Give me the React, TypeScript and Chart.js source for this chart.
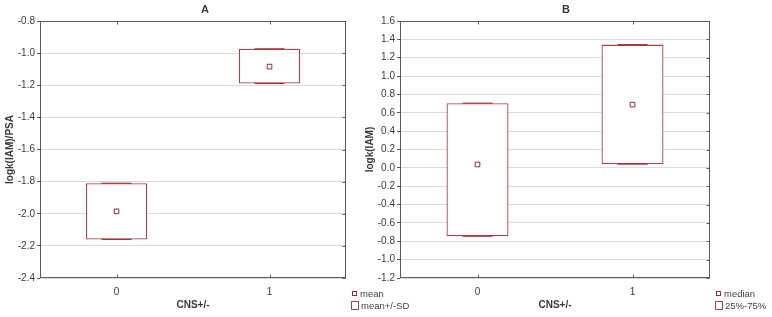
import React, { useEffect, useRef } from "react";
import { Chart, registerables } from "chart.js";

Chart.register(...registerables);

// ---- data ----
const categories = ["0", "1"];

// Panel A: mean and mean +/- SD of logk(IAM)/PSA
const meanA = [-1.985, -1.084];
const sdLowA = [-2.16, -1.189];
const sdHighA = [-1.81, -0.973];
const yTicksA = { min: -2.4, max: -0.8, step: 0.2 };

// Panel B: median and 25%-75% of logk(IAM)
const medianB = [0.037, 0.689];
const q1B = [-0.745, 0.04];
const q3B = [0.705, 1.343];
const yTicksB = { min: -1.2, max: 1.6, step: 0.2 };

const FONT = "'Liberation Sans', Arial, 'DejaVu Sans', sans-serif";
const BOX_COLOR = "#a8434a";
const CAP_COLOR = "#b02a34";
const MARK_COLOR = "#8e2f35";
const FRAME = "#5a5a5a";
const TEXT = "#3a3a3a";

type PanelCfg = {
  title: string;
  yTitle: string;
  xTitle: string;
  center: number[];
  low: number[];
  high: number[];
  yr: { min: number; max: number; step: number };
  legendPoint: string;
  legendBox: string;
  rightPad: number;
};

const framePlugin = {
  id: "frameAndLegend",
  afterDraw(chart: any, _args: any, opts: any) {
    const { ctx, chartArea } = chart;
    const l = Math.round(chartArea.left) + 0.5;
    const t = Math.round(chartArea.top) + 0.5;
    const r = Math.round(chartArea.right) - 0.5;
    const b = Math.round(chartArea.bottom) - 0.5;
    ctx.save();
    ctx.strokeStyle = FRAME;
    ctx.lineWidth = 1;
    ctx.strokeRect(l, t, r - l, b - t);
    // inner tick marks
    const ys = chart.scales.y;
    ctx.beginPath();
    ys.ticks.forEach((_: any, i: number) => {
      const py = Math.round(ys.getPixelForTick(i)) + 0.5;
      ctx.moveTo(r, py);
      ctx.lineTo(r - 3, py);
    });
    const xs = chart.scales.x;
    xs.ticks.forEach((_: any, i: number) => {
      const px = Math.round(xs.getPixelForTick(i)) + 0.5;
      ctx.moveTo(px, t);
      ctx.lineTo(px, t + 3);
      ctx.moveTo(px, b);
      ctx.lineTo(px, b - 3);
    });
    ctx.stroke();

    // panel title, centred on the canvas
    ctx.font = `bold 11px ${FONT}`;
    ctx.fillStyle = TEXT;
    ctx.textAlign = "center";
    ctx.textBaseline = "middle";
    ctx.fillText(opts.title, chart.width / 2, 10);

    // legend
    const x0 = chartArea.right;
    ctx.font = `9.5px ${FONT}`;
    ctx.textAlign = "left";
    ctx.fillStyle = "#fff";
    ctx.strokeStyle = MARK_COLOR;
    ctx.fillRect(Math.round(x0 + 6) + 0.5, 291.5, 4, 4);
    ctx.strokeRect(Math.round(x0 + 6) + 0.5, 291.5, 4, 4);
    ctx.fillStyle = "#444";
    ctx.fillText(opts.point, x0 + 14, 294);
    ctx.strokeStyle = BOX_COLOR;
    ctx.strokeRect(Math.round(x0 + 5) + 0.5, 301.5, 7, 8);
    ctx.fillText(opts.box, x0 + 15, 306);
    ctx.restore();
  },
};

function makeConfig(p: PanelCfg): any {
  return {
    type: "bar",
    data: {
      labels: categories,
      datasets: [
        {
          type: "line",
          label: p.legendPoint,
          data: p.center,
          showLine: false,
          pointStyle: "rect",
          pointRadius: 3.3,
          pointBackgroundColor: "#ffffff",
          pointBorderColor: MARK_COLOR,
          pointBorderWidth: 1,
          order: 0,
        },
        {
          type: "line",
          label: "cap-high",
          data: p.high,
          showLine: false,
          pointStyle: "line",
          pointRadius: 15,
          pointBorderColor: CAP_COLOR,
          pointBorderWidth: 1.1,
          order: 1,
        },
        {
          type: "line",
          label: "cap-low",
          data: p.low,
          showLine: false,
          pointStyle: "line",
          pointRadius: 15,
          pointBorderColor: CAP_COLOR,
          pointBorderWidth: 1.1,
          order: 1,
        },
        {
          type: "bar",
          label: p.legendBox,
          data: categories.map((_, i) => [p.low[i], p.high[i]]),
          backgroundColor: "#ffffff",
          borderColor: BOX_COLOR,
          borderWidth: 1.3,
          borderSkipped: false,
          barPercentage: 0.4,
          categoryPercentage: 1.0,
          order: 2,
        },
      ],
    },
    options: {
      responsive: false,
      animation: false,
      devicePixelRatio: 1,
      layout: { padding: { left: 0, right: p.rightPad, top: 21, bottom: 0 } },
      plugins: {
        legend: { display: false },
        tooltip: { enabled: false },
        title: { display: false },
        frameAndLegend: { point: p.legendPoint, box: p.legendBox, title: p.title },
      },
      scales: {
        x: {
          type: "category",
          offset: true,
          grid: { display: false },
          border: { display: false },
          ticks: { color: TEXT, font: { family: FONT, size: 10 }, padding: 0 },
          title: {
            display: true,
            text: p.xTitle,
            color: TEXT,
            font: { family: FONT, size: 10, weight: "bold" },
            padding: { top: 0, bottom: 6 },
          },
          afterFit(scale: any) {
            scale.height = 39;
          },
        },
        y: {
          type: "linear",
          min: p.yr.min,
          max: p.yr.max,
          grid: {
            color: "#dcdcdc",
            lineWidth: 1,
            drawTicks: true,
            tickLength: 3,
            tickColor: FRAME,
          },
          border: { display: false },
          ticks: {
            stepSize: p.yr.step,
            color: TEXT,
            font: { family: FONT, size: 10 },
            padding: 2,
            callback: (v: number) => (Math.abs(v) < 1e-9 ? 0 : v).toFixed(1),
          },
          title: {
            display: true,
            text: p.yTitle,
            color: TEXT,
            font: { family: FONT, size: 10, weight: "bold" },
            padding: { top: 4, bottom: 0 },
          },
          afterFit(scale: any) {
            scale.width = 40;
          },
        },
      },
    },
    plugins: [framePlugin],
  };
}

function Panel(props: { cfg: PanelCfg; left: number; width: number }) {
  const ref = useRef<HTMLCanvasElement | null>(null);
  useEffect(() => {
    if (!ref.current) return;
    const chart = new Chart(ref.current, makeConfig(props.cfg));
    return () => chart.destroy();
  }, []);
  return (
    <canvas
      ref={ref}
      width={props.width}
      height={317}
      style={{ position: "absolute", left: props.left, top: 0, width: props.width, height: 317 }}
    />
  );
}

export default function App() {
  useEffect(() => {
    document.body.style.margin = "0";
    document.body.style.background = "#ffffff";
  }, []);
  const cfgA: PanelCfg = {
    title: "A",
    yTitle: "logk(IAM)/PSA",
    xTitle: "CNS+/-",
    center: meanA,
    low: sdLowA,
    high: sdHighA,
    yr: yTicksA,
    legendPoint: "mean",
    legendBox: "mean+/-SD",
    rightPad: 64,
  };
  const cfgB: PanelCfg = {
    title: "B",
    yTitle: "logk(IAM)",
    xTitle: "CNS+/-",
    center: medianB,
    low: q1B,
    high: q3B,
    yr: yTicksB,
    legendPoint: "median",
    legendBox: "25%-75%",
    rightPad: 62,
  };
  return (
    <div style={{ position: "relative", width: 772, height: 317, background: "#fff" }}>
      <Panel cfg={cfgA} left={0} width={410} />
      <Panel cfg={cfgB} left={360} width={412} />
    </div>
  );
}
